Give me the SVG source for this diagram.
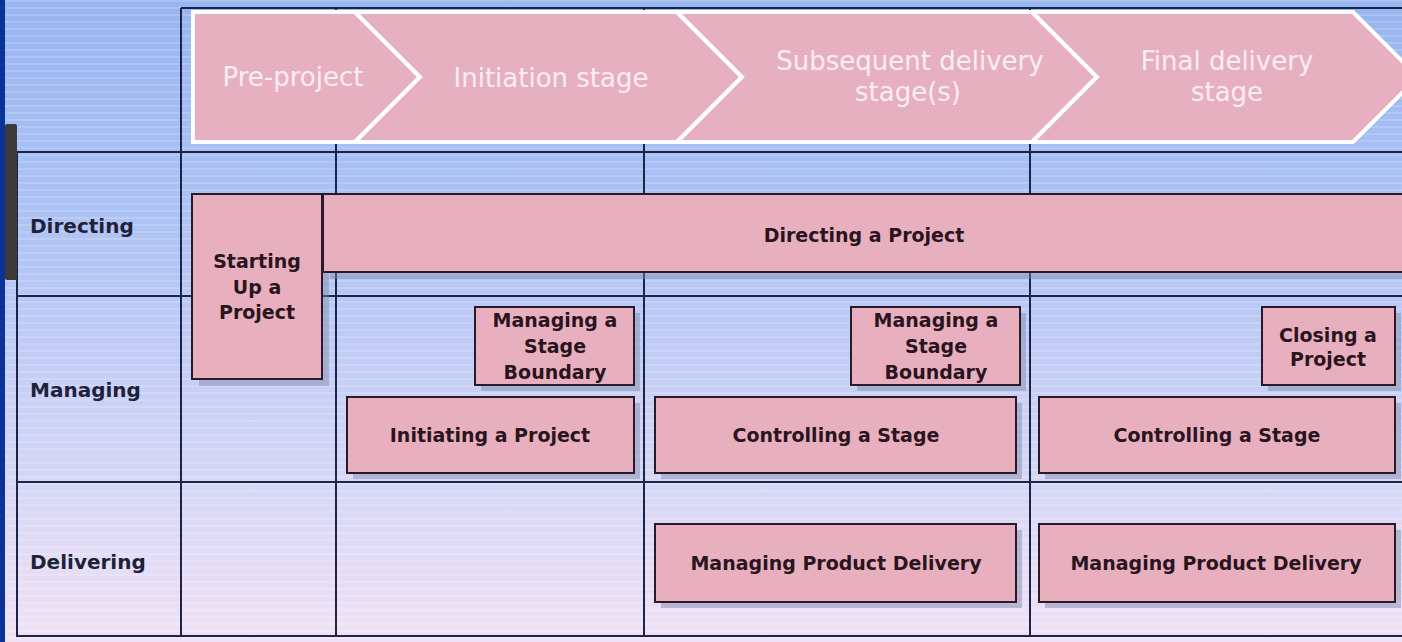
<svg xmlns="http://www.w3.org/2000/svg" width="1402" height="642" viewBox="0 0 1402 642">
<defs>
<linearGradient id="bg" x1="0" y1="0" x2="0" y2="1">
 <stop offset="0" stop-color="#97b5f0"/>
 <stop offset="0.4" stop-color="#b2c5f5"/>
 <stop offset="0.75" stop-color="#d6d7f6"/>
 <stop offset="1" stop-color="#f0e2f4"/>
</linearGradient>
<pattern id="stripes" width="10" height="7" patternUnits="userSpaceOnUse">
 <rect width="10" height="2" fill="#ffffff" opacity="0.16"/>
</pattern>
<style>
.grid line { stroke:#1c2448; stroke-width:2 }
.chev { fill:#e7b0c0; stroke:#ffffff; stroke-width:4; stroke-linejoin:miter }
.box { fill:#e8b0bf; stroke:#2a1a28; stroke-width:2 }
.shadow { fill:#7d86a6; opacity:0.45 }
.bt { font-family:"DejaVu Sans", Verdana, sans-serif; font-weight:bold; font-size:19px; fill:#2a1420; text-anchor:middle }
.rl { font-family:"DejaVu Sans", Verdana, sans-serif; font-weight:bold; font-size:20px; fill:#1e2238 }
.ct { font-family:"DejaVu Sans", Verdana, sans-serif; font-size:26px; fill:#fbeef3; text-anchor:middle }
</style>
</defs>
<rect x="0" y="0" width="1402" height="642" fill="url(#bg)"/>
<rect x="0" y="0" width="1402" height="642" fill="url(#stripes)"/>
<rect x="0" y="0" width="5" height="642" fill="#0b3296"/>

<g id="grid" class="grid">
 <line x1="181" y1="8" x2="1402" y2="8"/>
 <line x1="17" y1="152" x2="1402" y2="152"/>
 <line x1="17" y1="296" x2="1402" y2="296"/>
 <line x1="17" y1="482" x2="1402" y2="482"/>
 <line x1="17" y1="636" x2="1402" y2="636"/>
 <line x1="17" y1="152" x2="17" y2="637"/>
 <line x1="181" y1="8" x2="181" y2="637"/>
 <line x1="336" y1="8" x2="336" y2="637"/>
 <line x1="644" y1="8" x2="644" y2="637"/>
 <line x1="1030" y1="8" x2="1030" y2="637"/>
</g>
<rect x="5" y="124" width="12" height="156" rx="2" fill="#3b3b3b"/>

<g id="labels">
 <text class="rl" x="30" y="233">Directing</text>
 <text class="rl" x="30" y="397">Managing</text>
 <text class="rl" x="30" y="569">Delivering</text>
</g>

<g id="stage-pre">
 <path class="chev" d="M193,12 H355 L420,77 L355,142 H193 Z"/>
 <text class="ct" x="293" y="86">Pre-project</text>
</g>
<g id="stage-initiation">
 <path class="chev" d="M355,12 H677 L742,77 L677,142 H355 L420,77 Z"/>
 <text class="ct" x="551" y="87">Initiation stage</text>
</g>
<g id="stage-subsequent">
 <path class="chev" d="M677,12 H1032 L1097,77 L1032,142 H677 L742,77 Z"/>
 <text class="ct" x="910" y="70">Subsequent delivery</text>
 <text class="ct" x="908" y="101">stage(s)</text>
</g>
<g id="stage-final">
 <path class="chev" d="M1032,12 H1353 L1418,77 L1353,142 H1032 L1097,77 Z"/>
 <text class="ct" x="1227" y="70">Final delivery</text>
 <text class="ct" x="1227" y="101">stage</text>
</g>

<g id="connectors"></g>

<g id="starting-up">
 <rect class="shadow" x="199" y="201" width="130" height="185"/>
 <rect class="box" x="192" y="194" width="130" height="185"/>
 <text class="bt" x="257" y="268">Starting</text>
 <text class="bt" x="257" y="294">Up a</text>
 <text class="bt" x="257" y="319">Project</text>
</g>
<g id="directing-project">
 <rect class="shadow" x="330" y="201" width="1090" height="78"/>
 <rect class="box" x="323" y="194" width="1100" height="78"/>
 <text class="bt" x="864" y="242">Directing a Project</text>
</g>
<g id="msb-1">
 <rect class="shadow" x="481" y="313" width="159" height="78"/>
 <rect class="box" x="475" y="307" width="159" height="78"/>
 <text class="bt" x="555" y="327">Managing a</text>
 <text class="bt" x="555" y="353">Stage</text>
 <text class="bt" x="555" y="379">Boundary</text>
</g>
<g id="msb-2">
 <rect class="shadow" x="857" y="313" width="169" height="78"/>
 <rect class="box" x="851" y="307" width="169" height="78"/>
 <text class="bt" x="936" y="327">Managing a</text>
 <text class="bt" x="936" y="353">Stage</text>
 <text class="bt" x="936" y="379">Boundary</text>
</g>
<g id="closing">
 <rect class="shadow" x="1268" y="313" width="133" height="78"/>
 <rect class="box" x="1262" y="307" width="133" height="78"/>
 <text class="bt" x="1328" y="342">Closing a</text>
 <text class="bt" x="1328" y="366">Project</text>
</g>
<g id="initiating">
 <rect class="shadow" x="353" y="403" width="287" height="76"/>
 <rect class="box" x="347" y="397" width="287" height="76"/>
 <text class="bt" x="490" y="442">Initiating a Project</text>
</g>
<g id="controlling-1">
 <rect class="shadow" x="661" y="403" width="361" height="76"/>
 <rect class="box" x="655" y="397" width="361" height="76"/>
 <text class="bt" x="836" y="442">Controlling a Stage</text>
</g>
<g id="controlling-2">
 <rect class="shadow" x="1045" y="403" width="356" height="76"/>
 <rect class="box" x="1039" y="397" width="356" height="76"/>
 <text class="bt" x="1217" y="442">Controlling a Stage</text>
</g>
<g id="mpd-1">
 <rect class="shadow" x="661" y="530" width="361" height="78"/>
 <rect class="box" x="655" y="524" width="361" height="78"/>
 <text class="bt" x="836" y="570">Managing Product Delivery</text>
</g>
<g id="mpd-2">
 <rect class="shadow" x="1045" y="530" width="356" height="78"/>
 <rect class="box" x="1039" y="524" width="356" height="78"/>
 <text class="bt" x="1216" y="570">Managing Product Delivery</text>
</g>
</svg>
